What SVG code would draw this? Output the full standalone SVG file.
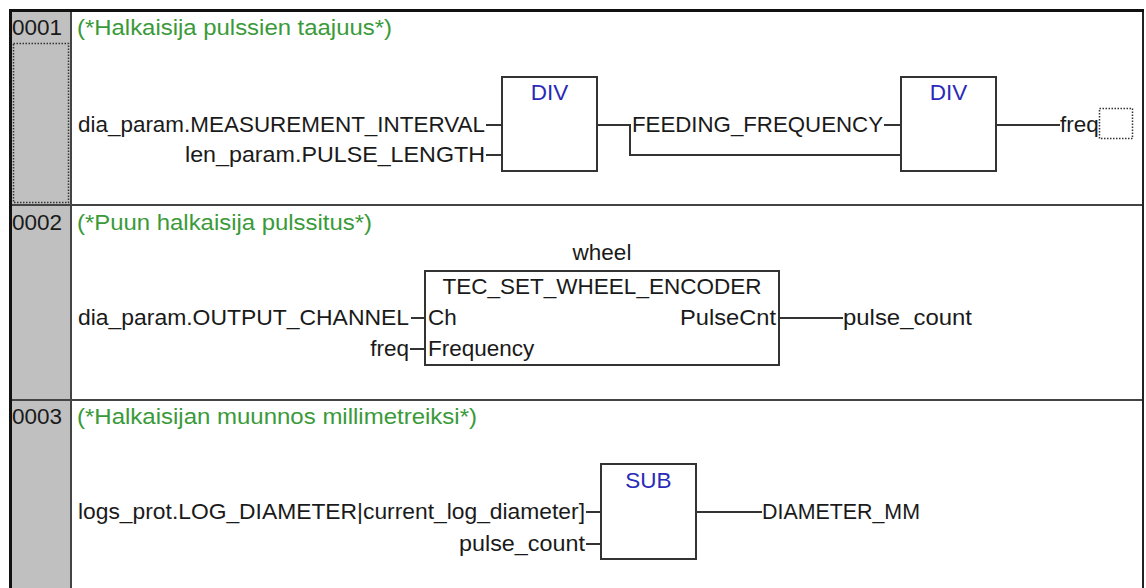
<svg xmlns="http://www.w3.org/2000/svg" width="1146" height="588" viewBox="0 0 1146 588">
  <style>
    text { font-family: "Liberation Sans", Arial, sans-serif; font-size: 22.5px; fill: #1a1a1a; }
    .cmt { fill: #3a9a3a; }
    .fn { fill: #2a2ab8; }
    .end { text-anchor: end; }
    .mid { text-anchor: middle; }
    .box { fill: #ffffff; stroke: #333333; stroke-width: 2; }
    .wire { fill: none; stroke: #333333; stroke-width: 2; }
    .sep { stroke: #444444; stroke-width: 2; }
    .dot { fill: none; stroke: #333333; stroke-width: 1.5; stroke-dasharray: 1.5 1.5; }
  </style>
  <rect x="0" y="0" width="1146" height="588" fill="#ffffff"/>

  <g id="frame">
    <rect x="11" y="11" width="60" height="577" fill="#c0c0c0"/>
    <line x1="71" y1="11" x2="71" y2="588" class="sep"/>
    <line x1="11" y1="205" x2="1143" y2="205" class="sep"/>
    <line x1="11" y1="400" x2="1143" y2="400" class="sep"/>
    <line x1="1143" y1="10" x2="1143" y2="588" stroke="#222" stroke-width="2"/>
    <line x1="9" y1="10.5" x2="1144" y2="10.5" stroke="#111" stroke-width="3"/>
    <line x1="10.5" y1="9" x2="10.5" y2="588" stroke="#111" stroke-width="3"/>
    <rect x="13.5" y="43.5" width="55" height="159" class="dot"/>
  </g>

  <g id="network-0001">
    <text x="12" y="35">0001</text>
    <text x="77" y="35" class="cmt" textLength="315" lengthAdjust="spacingAndGlyphs">(*Halkaisija pulssien taajuus*)</text>
  </g>
  <g id="network-0002">
    <text x="12" y="230">0002</text>
    <text x="77" y="230" class="cmt" textLength="295" lengthAdjust="spacingAndGlyphs">(*Puun halkaisija pulssitus*)</text>
  </g>
  <g id="network-0003">
    <text x="12" y="424">0003</text>
    <text x="77" y="424" class="cmt" textLength="400" lengthAdjust="spacingAndGlyphs">(*Halkaisijan muunnos millimetreiksi*)</text>
  </g>

  <g id="connectors">
    <!-- network 1 -->
    <path d="M486 125 H502" class="wire"/>
    <path d="M486 155 H502" class="wire"/>
    <path d="M597 125 H630 V155 H901" class="wire"/>
    <path d="M884 125 H901" class="wire"/>
    <path d="M996 125 H1060" class="wire"/>
    <!-- network 2 -->
    <path d="M411 318 H425" class="wire"/>
    <path d="M410 349 H425" class="wire"/>
    <path d="M779 318 H843" class="wire"/>
    <!-- network 3 -->
    <path d="M586 512 H601" class="wire"/>
    <path d="M586 544 H601" class="wire"/>
    <path d="M696 512 H762" class="wire"/>
  </g>

  <g id="var-measurement-interval">
    <text x="485" y="132" class="end" textLength="407" lengthAdjust="spacingAndGlyphs">dia_param.MEASUREMENT_INTERVAL</text>
  </g>
  <g id="var-pulse-length">
    <text x="485" y="162" class="end" textLength="300" lengthAdjust="spacingAndGlyphs">len_param.PULSE_LENGTH</text>
  </g>
  <g id="div1">
    <rect x="502" y="77" width="95" height="94" class="box"/>
    <text x="549.5" y="100" class="fn mid">DIV</text>
  </g>
  <g id="var-feeding-frequency">
    <text x="632" y="132" textLength="251" lengthAdjust="spacingAndGlyphs">FEEDING_FREQUENCY</text>
  </g>
  <g id="div2">
    <rect x="901" y="77" width="95" height="94" class="box"/>
    <text x="948.5" y="100" class="fn mid">DIV</text>
  </g>
  <g id="var-freq-out">
    <text x="1060" y="132">freq</text>
    <rect x="1099.5" y="108.5" width="33" height="30" class="dot"/>
  </g>

  <g id="var-output-channel">
    <text x="409" y="325" class="end" textLength="331" lengthAdjust="spacingAndGlyphs">dia_param.OUTPUT_CHANNEL</text>
  </g>
  <g id="var-freq-in">
    <text x="409" y="356" class="end">freq</text>
  </g>
  <g id="wheel">
    <text x="602" y="260" class="mid">wheel</text>
    <rect x="425" y="271" width="354" height="94" class="box"/>
    <text x="602" y="294" class="mid">TEC_SET_WHEEL_ENCODER</text>
    <text x="428" y="325">Ch</text>
    <text x="428" y="356">Frequency</text>
    <text x="776" y="325" class="end" textLength="96" lengthAdjust="spacingAndGlyphs">PulseCnt</text>
  </g>
  <g id="var-pulse-count-out">
    <text x="843" y="325" textLength="129" lengthAdjust="spacingAndGlyphs">pulse_count</text>
  </g>

  <g id="var-log-diameter">
    <text x="585" y="519" class="end" textLength="507" lengthAdjust="spacingAndGlyphs">logs_prot.LOG_DIAMETER|current_log_diameter]</text>
  </g>
  <g id="var-pulse-count-in">
    <text x="585" y="551" class="end" textLength="126" lengthAdjust="spacingAndGlyphs">pulse_count</text>
  </g>
  <g id="sub">
    <rect x="601" y="464" width="95" height="95" class="box"/>
    <text x="648.5" y="488" class="fn mid">SUB</text>
  </g>
  <g id="var-diameter-mm">
    <text x="762" y="519" textLength="158" lengthAdjust="spacingAndGlyphs">DIAMETER_MM</text>
  </g>
</svg>
